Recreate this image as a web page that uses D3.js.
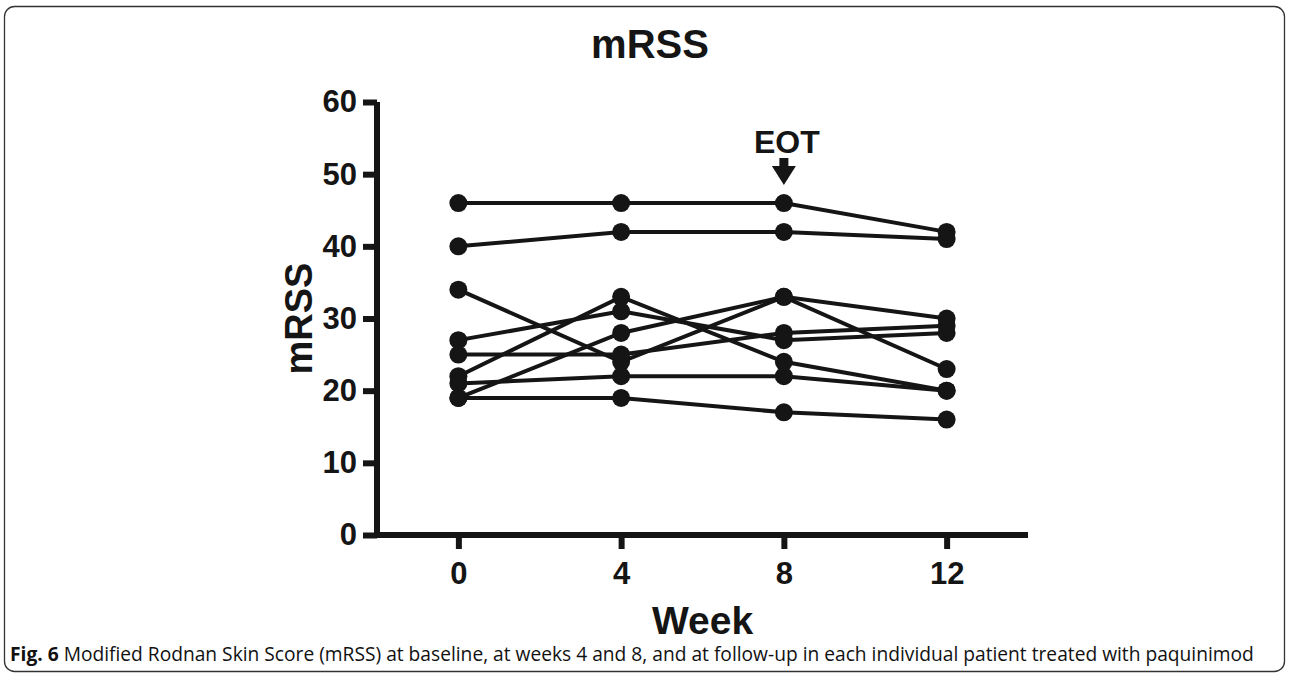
<!DOCTYPE html>
<html><head><meta charset="utf-8">
<script src="https://cdn.jsdelivr.net/npm/d3@7"></script>
<style>
html,body{margin:0;padding:0;background:#fff;}
svg{display:block;}
</style></head>
<body>
<svg id="c" width="1290" height="681"></svg>
<script>
// ---- data ----
const weeks = [0, 4, 8, 12];
const xTicks = [0, 4, 8, 12];
const yTicks = [0, 10, 20, 30, 40, 50, 60];
const patient1 = [46, 46, 46, 42];
const patient2 = [40, 42, 42, 41];
const patient3 = [34, 24, 33, 23];
const patient4 = [27, 31, 27, 28];
const patient5 = [25, 25, 28, 29];
const patient6 = [22, 33, 24, 20];
const patient7 = [21, 22, 22, 20];
const patient8 = [19, 28, 33, 30];
const patient9 = [19, 19, 17, 16];
const patients = [patient1, patient2, patient3, patient4, patient5, patient6, patient7, patient8, patient9];
const eotWeek = 8;
const titleText = "mRSS";
const xLabel = "Week";
const yLabel = "mRSS";
const caption = "Modified Rodnan Skin Score (mRSS) at baseline, at weeks 4 and 8, and at follow-up in each individual patient treated with paquinimod";

const svg = d3.select("#c");
const ink = "#151515";
const font = "'Liberation Sans', Arial, sans-serif";

// frame
svg.append("rect").attr("x", 4.5).attr("y", 6.5).attr("width", 1280).attr("height", 665)
  .attr("rx", 10).attr("fill", "none").attr("stroke", "#333").attr("stroke-width", 1.3);

const x = d3.scaleLinear().domain([-2, 14]).range([377, 1028]);
const y = d3.scaleLinear().domain([0, 60]).range([535, 102]);

// axes
const yAxis = d3.axisLeft(y).tickValues(yTicks).tickSize(14).tickPadding(6).tickSizeOuter(0);
const xAxis = d3.axisBottom(x).tickValues(xTicks).tickSize(14).tickPadding(13).tickSizeOuter(0);

const gy = svg.append("g").attr("transform", `translate(${x(-2)},0)`).call(yAxis);
const gx = svg.append("g").attr("transform", `translate(0,${y(0)})`).call(xAxis);
[gx, gy].forEach(g => {
  g.select(".domain").attr("stroke", ink).attr("stroke-width", 6);
  g.selectAll(".tick line").attr("stroke", ink).attr("stroke-width", 6);
  g.selectAll(".tick text").attr("fill", ink).attr("font-family", font)
    .attr("font-weight", "bold").attr("font-size", 31);
});
gy.select(".domain").attr("d", `M0,${y(60)}V${y(0) + 3}`);
gx.select(".domain").attr("d", `M${x(-2) - 3},0H${x(14)}`);
gx.selectAll(".tick text").attr("dy", "0.71em");

// lines
const line = d3.line().x((d, i) => x(weeks[i])).y(d => y(d));
svg.append("g").selectAll("path").data(patients).join("path")
  .attr("d", line).attr("fill", "none").attr("stroke", ink).attr("stroke-width", 4);

// points
patients.forEach(p => {
  svg.append("g").selectAll("circle").data(p).join("circle")
    .attr("cx", (d, i) => x(weeks[i])).attr("cy", d => y(d)).attr("r", 9).attr("fill", ink);
});

// title
svg.append("text").attr("x", 650).attr("y", 58).attr("text-anchor", "middle")
  .attr("font-family", font).attr("font-weight", "bold").attr("font-size", 40)
  .attr("fill", ink).text(titleText);

// axis labels
svg.append("text").attr("x", x(6)).attr("y", 634).attr("text-anchor", "middle")
  .attr("font-family", font).attr("font-weight", "bold").attr("font-size", 39)
  .attr("fill", ink).text(xLabel);
svg.append("text").attr("transform", `translate(312,${y(30)}) rotate(-90)`).attr("text-anchor", "middle")
  .attr("font-family", font).attr("font-weight", "bold").attr("font-size", 38)
  .attr("fill", ink).text(yLabel);

// EOT marker
const ex = x(eotWeek);
svg.append("text").attr("x", ex + 3).attr("y", 153).attr("text-anchor", "middle")
  .attr("font-family", font).attr("font-weight", "bold").attr("font-size", 32)
  .attr("fill", ink).text("EOT");
svg.append("rect").attr("x", ex - 4.5).attr("y", 158).attr("width", 9).attr("height", 10).attr("fill", ink);
svg.append("path").attr("d", `M${ex - 12},166 L${ex + 12},166 L${ex},185 Z`).attr("fill", ink);

// caption
const cap = svg.append("text").attr("x", 10).attr("y", 661)
  .attr("font-family", "'Open Sans', 'Noto Sans', sans-serif").attr("font-size", 17).attr("fill", "#111");
cap.append("tspan").attr("font-weight", "bold").text("Fig. 6");
cap.append("tspan").text(" " + caption);
const w = cap.node().getComputedTextLength();
cap.attr("font-size", 17 * 1245 / w);
</script>
</body></html>
